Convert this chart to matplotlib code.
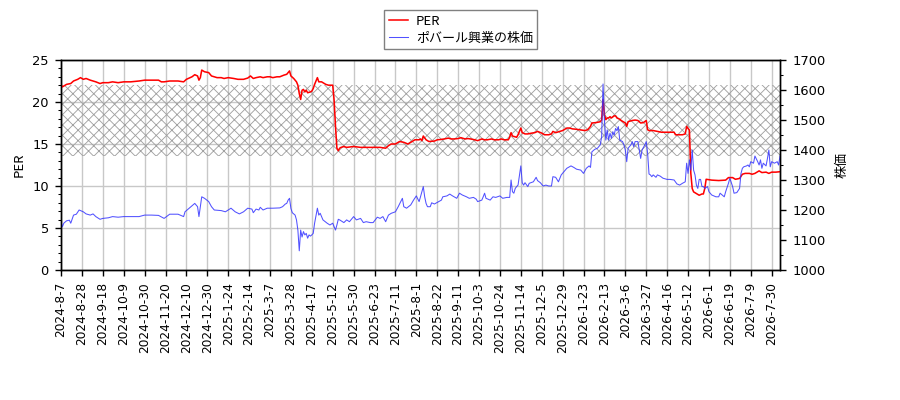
import matplotlib
matplotlib.use("Agg")
import matplotlib.pyplot as plt
from matplotlib.ticker import MultipleLocator
import numpy as np

plt.rcParams['font.family'] = ['DejaVu Sans', 'Noto Sans CJK JP']
plt.rcParams['hatch.linewidth'] = 0.5

# x tick labels (every 15 trading days)
tick_labels = ["2024-8-7", "2024-8-28", "2024-9-18", "2024-10-9", "2024-10-30", "2024-11-20",
               "2024-12-10", "2024-12-30", "2025-1-24", "2025-2-14", "2025-3-7", "2025-3-28",
               "2025-4-17", "2025-5-12", "2025-5-30", "2025-6-23", "2025-7-11", "2025-8-1",
               "2025-8-22", "2025-9-11", "2025-10-3", "2025-10-24", "2025-11-14", "2025-12-5",
               "2025-12-29", "2026-1-23", "2026-2-13", "2026-3-6", "2026-3-27", "2026-4-16",
               "2026-5-12", "2026-6-1", "2026-6-19", "2026-7-9", "2026-7-30"]
tick_step = 15
last_day = 516

# PER band
band_low, band_high = 13.6, 22.0

# PER series: (trading-day index, PER)
per_points = [
    (0,22.1),(1,21.8),(4,22.1),(7,22.2),(9,22.5),(12,22.7),(14,22.9),(16,22.7),(18,22.8),(21,22.6),
    (23,22.5),(25,22.4),(28,22.2),(30,22.3),(34,22.3),(37,22.4),(41,22.3),(45,22.4),(50,22.4),(56,22.5),
    (60,22.6),(70,22.6),(72,22.4),(74,22.4),(78,22.5),(84,22.5),(88,22.4),(90,22.7),(94,23.0),(96,23.25),
    (98,23.1),(99,22.6),(100,22.9),(101,23.8),(103,23.6),(106,23.5),(108,23.1),(112,22.9),(115,22.9),
    (117,22.8),(120,22.9),(124,22.8),(127,22.7),(131,22.7),(134,22.85),
    (136,23.1),(138,22.8),(140,22.9),(143,23.0),(145,22.9),(148,23.0),(150,23.0),(152,22.9),(155,23.0),
    (157,23.0),(160,23.2),(162,23.3),(164,23.7),(165,23.1),(167,22.8),(169,22.4),(170,22.0),(171,21.0),
    (172,20.3),(173,21.4),(174,21.5),(175,21.2),(176,21.4),(177,21.1),(179,21.2),(180,21.3),(181,21.6),
    (182,22.1),(184,22.9),(185,22.4),(187,22.4),(190,22.1),(192,22.0),(195,22.0),(196,20.2),(197,17.1),
    (198,14.5),(199,14.2),(200,14.5),(201,14.6),(203,14.7),(205,14.6),(210,14.7),(215,14.6),(220,14.6),
    (224,14.6),(229,14.6),(233,14.5),(235,14.8),(237,15.0),(240,15.0),(243,15.3),(246,15.2),(249,15.0),
    (252,15.3),(254,15.5),(257,15.5),(258,15.6),(259,15.4),(260,15.95),(262,15.5),(264,15.3),
    (268,15.35),(270,15.5),(273,15.55),(275,15.6),(278,15.7),(280,15.6),(282,15.6),(285,15.65),(287,15.75),
    (290,15.6),(292,15.65),(294,15.6),(297,15.5),(299,15.4),(302,15.6),(304,15.5),(306,15.5),(309,15.6),
    (311,15.5),(314,15.5),(316,15.6),(318,15.5),(321,15.5),(322,15.8),(323,16.35),(324,15.95),(327,15.8),
    (328,16.1),(330,16.9),(331,16.35),(333,16.2),(335,16.2),(338,16.3),(340,16.35),(342,16.5),(345,16.3),
    (347,16.1),(350,16.1),(352,16.2),(353,16.5),(355,16.35),(358,16.5),(360,16.6),(363,16.9),(365,16.9),
    (367,16.8),(370,16.75),(372,16.7),(376,16.6),(378,16.7),(380,17.1),(381,17.5),(384,17.55),(387,17.65),
    (388,17.85),(389,20.3),(390,18.5),(391,17.9),(392,18.1),(393,18.1),(394,18.25),(395,18.1),(397,18.35),
    (398,18.35),(399,18.1),(401,17.95),(402,17.8),(405,17.5),(406,17.1),(407,17.66),(410,17.8),(412,17.85),
    (414,17.8),(416,17.5),(418,17.55),(420,17.8),(421,16.7),(422,16.6),(425,16.6),(428,16.5),(431,16.4),
    (434,16.4),(436,16.4),(440,16.4),(441,16.1),(444,16.1),(446,16.1),(448,16.2),(449,17.1),(450,16.85),
    (451,16.65),(452,11.5),(453,9.7),(454,9.3),(455,9.2),(458,8.9),(460,9.05),(461,9.05),(462,9.7),
    (463,10.8),(467,10.7),(472,10.65),(477,10.7),(479,11.0),(482,11.0),(484,10.8),(487,10.9),(489,11.4),
    (491,11.5),(494,11.5),(496,11.4),(498,11.5),(501,11.8),(503,11.6),(506,11.65),(508,11.5),(510,11.65),
    (513,11.65),(516,11.7),
]

# stock price series: (trading-day index, price)
price_points = [
    (0,1161),(1,1144),(2,1156),(4,1164),(6,1166),(7,1156),(9,1183),(11,1186),(13,1200),(16,1194),
    (18,1187),(21,1183),(23,1187),(25,1178),(28,1169),(30,1172),(34,1174),(37,1178),(41,1176),(45,1178),
    (50,1178),(56,1178),(60,1183),(65,1183),(70,1182),(74,1172),(78,1186),(84,1186),(88,1178),(89,1194),
    (92,1206),(96,1222),(98,1211),(99,1178),(101,1244),(103,1239),(106,1228),(108,1211),(110,1200),
    (115,1198),(118,1194),(120,1200),(122,1206),(125,1194),(128,1187),(131,1194),(134,1206),
    (137,1203),(138,1191),(140,1203),(142,1200),(143,1209),(145,1200),(148,1206),(152,1206),(157,1207),
    (159,1211),(161,1220),(162,1222),(163,1233),(164,1239),(165,1205),(166,1191),(168,1183),(169,1167),
    (170,1133),(171,1064),(172,1133),(173,1110),(174,1128),(175,1117),(176,1122),(177,1106),(178,1117),
    (179,1113),(180,1117),(181,1122),(182,1156),(184,1206),(185,1183),(186,1189),(188,1167),(191,1156),
    (193,1150),(195,1156),(197,1133),(198,1150),(199,1169),(200,1167),(203,1158),(205,1167),(207,1161),
    (210,1178),(212,1167),(215,1172),(217,1158),(219,1161),(222,1158),(224,1158),(227,1176),(229,1172),
    (231,1178),(233,1161),(235,1183),(237,1189),(240,1194),(242,1211),(245,1239),(246,1211),(248,1206),
    (251,1217),(253,1233),(255,1247),(257,1228),(258,1244),(260,1278),(261,1244),(262,1222),(263,1211),
    (265,1211),(266,1224),(268,1220),(271,1228),(273,1233),(274,1244),(277,1247),(279,1253),(281,1247),
    (284,1239),(286,1256),(288,1250),(291,1244),(293,1239),(296,1242),(298,1236),(299,1228),(302,1233),
    (303,1244),(304,1256),(305,1239),(308,1233),(310,1244),(312,1242),(315,1247),(317,1239),(320,1242),
    (322,1242),(323,1300),(324,1261),(325,1256),(326,1272),(327,1278),(328,1283),(330,1347),(331,1291),
    (332,1283),(333,1291),(335,1278),(336,1289),(339,1294),(341,1309),(342,1298),(344,1291),(346,1280),
    (348,1283),(350,1280),(352,1280),(353,1311),(355,1309),(357,1294),(359,1317),(361,1328),(363,1339),
    (366,1347),(368,1342),(370,1336),(373,1333),(375,1322),(377,1339),(379,1347),(380,1342),(381,1394),
    (383,1402),(385,1406),(387,1417),(388,1444),(389,1620),(390,1500),(391,1433),(392,1467),(393,1433),
    (394,1456),(395,1439),(396,1461),(397,1450),(398,1472),(399,1464),(400,1478),(401,1433),(403,1428),
    (404,1417),(405,1400),(406,1361),(407,1406),(409,1417),(410,1428),(411,1411),(412,1428),(414,1428),
    (415,1400),(416,1372),(417,1400),(419,1417),(420,1428),(421,1389),(422,1320),(423,1317),(424,1311),
    (425,1317),(427,1309),(428,1317),(430,1313),(432,1306),(435,1302),(437,1302),(440,1300),(442,1287),
    (444,1283),(446,1289),(448,1294),(449,1356),(450,1322),(451,1367),(452,1333),(453,1400),(454,1333),
    (455,1317),(456,1283),(457,1272),(458,1302),(459,1302),(460,1278),(461,1278),(462,1272),(464,1278),
    (465,1261),(467,1250),(470,1244),(472,1244),(473,1256),(476,1244),(477,1261),(479,1289),(480,1306),
    (482,1278),(483,1256),(485,1258),(487,1272),(488,1322),(489,1339),(490,1344),(492,1347),(493,1350),
    (494,1344),(495,1361),(497,1356),(498,1380),(500,1361),(501,1350),(502,1367),(503,1339),(504,1356),
    (506,1347),(507,1372),(508,1400),(509,1344),(510,1361),(512,1356),(514,1361),(515,1350),(516,1380),
]

per_day, per_val = zip(*per_points)
price_day, price_val = zip(*price_points)

fig = plt.figure(figsize=(7.2, 3.2), dpi=125)
ax = fig.add_axes([61/900, 130/400, 719/900, 210/400])
ax2 = ax.twinx()

ax.axhspan(band_low, band_high, facecolor='none', edgecolor='#a0a0a0', hatch='xxxx', linewidth=0, zorder=1)
l1, = ax.plot(per_day, per_val, color='#ff0000', linewidth=0.9, label='PER', zorder=3)
l2, = ax2.plot(price_day, price_val, color='#3333ff', alpha=0.85, linewidth=0.6, label='ポバール興業の株価')

ax.set_xlim(0, last_day)
ax.set_ylim(0, 25)
ax2.set_ylim(1000, 1700)
ax.yaxis.set_major_locator(MultipleLocator(5))
ax.yaxis.set_minor_locator(MultipleLocator(1))
ax2.yaxis.set_major_locator(MultipleLocator(100))
ax2.yaxis.set_minor_locator(MultipleLocator(50))

ax.set_xticks(np.arange(len(tick_labels)) * tick_step)
ax.set_xticklabels(tick_labels, rotation=90, fontsize=7)
ax.tick_params(axis='y', labelsize=7.5)
ax2.tick_params(axis='y', labelsize=7.5)
ax.grid(True, color='#c8c8c8', linewidth=0.8, zorder=0)
ax.set_axisbelow(True)

ax.set_ylabel('PER', fontsize=7.5, family=['Noto Sans CJK JP', 'DejaVu Sans'])
ax2.set_ylabel('株価', fontsize=7.5, rotation=90, labelpad=6, family=['Noto Sans CJK JP', 'DejaVu Sans'])

leg = fig.legend([l1, l2], ['PER', 'ポバール興業の株価'], loc='upper left',
                 bbox_to_anchor=(384/900, 1 - 10/400), borderaxespad=0,
                 fancybox=False, edgecolor='#808080', framealpha=1,
                 handlelength=1.5, handletextpad=0.6, labelspacing=0.3, borderpad=0.35,
                 prop={'family': ['Noto Sans CJK JP', 'DejaVu Sans'], 'size': 7.5})
leg.get_frame().set_linewidth(0.8)

fig.savefig('out.png', dpi=125)
